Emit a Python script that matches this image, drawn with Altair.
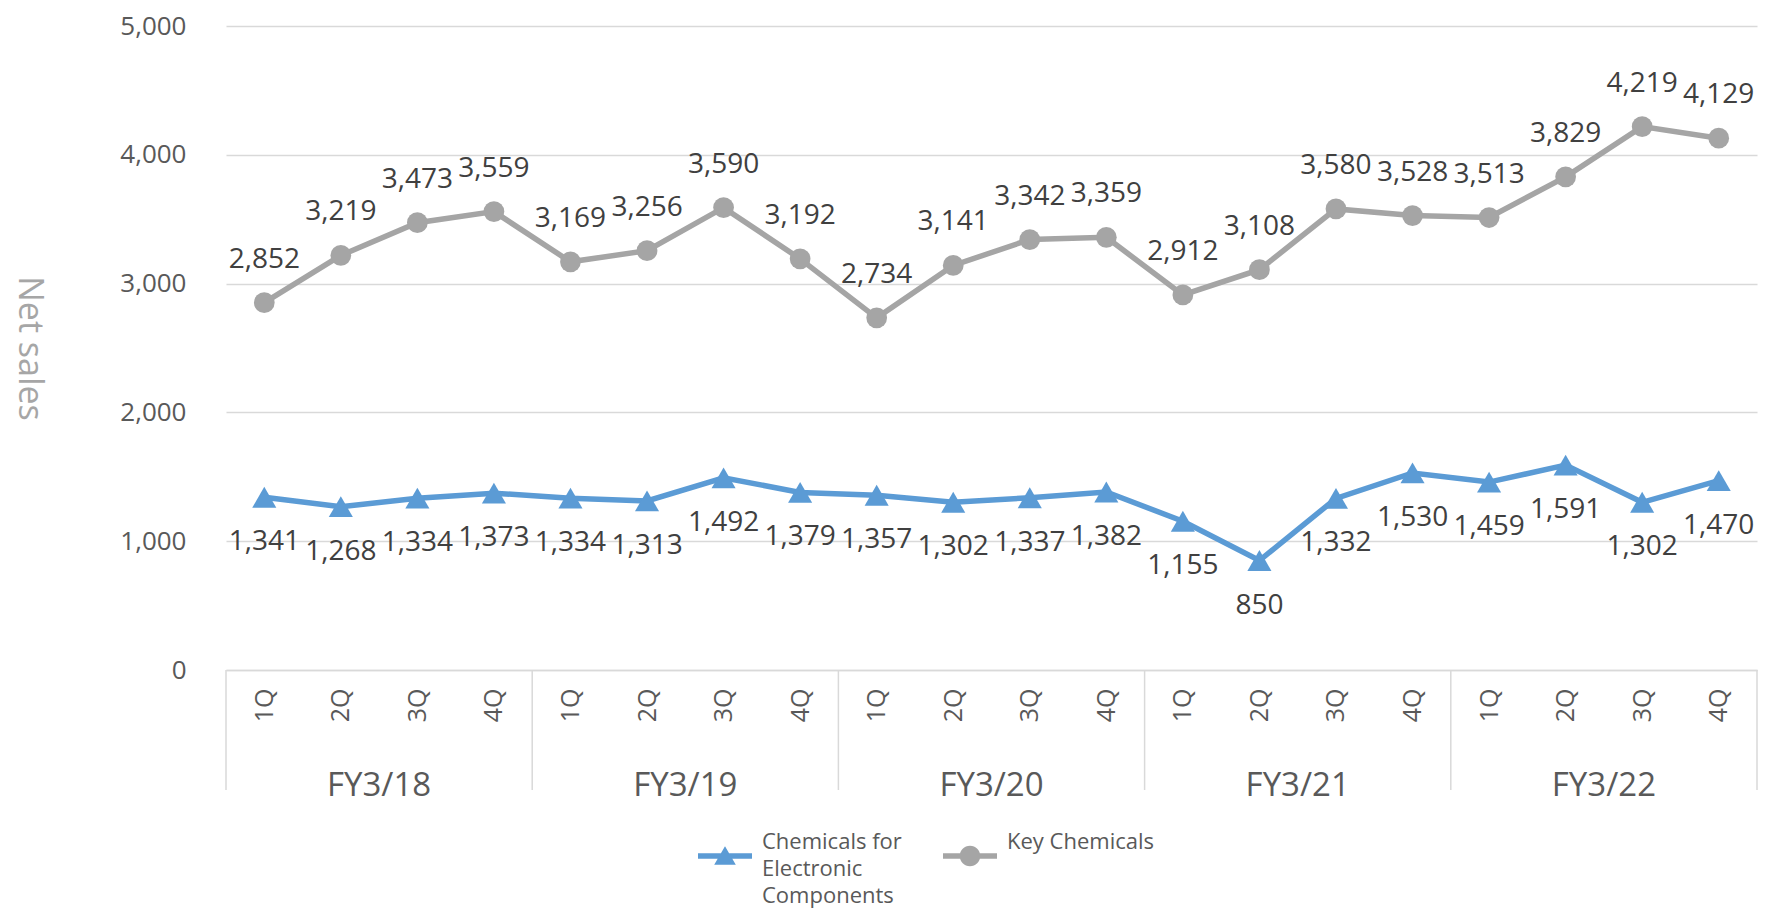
import json
import altair as alt
import pandas as pd

# ---------------- data ----------------
fiscal_years = ["FY3/18", "FY3/19", "FY3/20", "FY3/21", "FY3/22"]
quarters = ["1Q", "2Q", "3Q", "4Q"]
series_names = ["Chemicals for Electronic Components", "Key Chemicals"]
electronic = [1341, 1268, 1334, 1373, 1334, 1313, 1492, 1379, 1357, 1302,
              1337, 1382, 1155, 850, 1332, 1530, 1459, 1591, 1302, 1470]
key_chem = [2852, 3219, 3473, 3559, 3169, 3256, 3590, 3192, 2734, 3141,
            3342, 3359, 2912, 3108, 3580, 3528, 3513, 3829, 4219, 4129]
y_ticks = [0, 1000, 2000, 3000, 4000, 5000]
colors = ["#5B9BD5", "#A5A5A5"]

nq = len(quarters)
n = len(key_chem)

rows = []
for s, vals in zip(series_names, [electronic, key_chem]):
    for i, v in enumerate(vals):
        rows.append({"idx": i, "fy": fiscal_years[i // nq],
                     "q": quarters[i % nq], "series": s, "value": v})
df = pd.DataFrame(rows)

groups = pd.DataFrame({
    "fy": fiscal_years,
    "center": [g * nq + (nq - 1) / 2 for g in range(len(fiscal_years))],
})
bounds = pd.DataFrame({"b": [g * nq - 0.5 for g in range(len(fiscal_years) + 1)]})

W, H = 1531, 644
TXT = "#595959"
GRID = "#D9D9D9"
FONT = "Open Sans"

x_scale = alt.Scale(domain=[-0.5, n - 0.5], nice=False, zero=False)
y_scale = alt.Scale(domain=[y_ticks[0], y_ticks[-1]], nice=False)
color_scale = alt.Scale(domain=series_names, range=colors)

x_axis = alt.Axis(values=list(range(n)),
                  labelExpr=f"{json.dumps(quarters)}[datum.value % {nq}]",
                  labelAngle=270, ticks=False, grid=False,
                  domainColor=GRID, domainWidth=1.5,
                  labelFont=FONT, labelFontSize=25, labelColor=TXT,
                  labelPadding=18, labelFlush=False)
y_axis = alt.Axis(values=y_ticks, format=",d", grid=True,
                  gridColor=GRID, gridWidth=1.5, domain=False,
                  ticks=False, labelPadding=40, labelFont=FONT,
                  labelFontSize=26, labelColor=TXT,
                  titleAngle=90, titleX=-198, titleY=H / 2,
                  titleAlign="center", titleBaseline="middle",
                  titleFont=FONT, titleFontSize=34,
                  titleFontWeight="normal", titleColor="#A6A6A6")


def xq(field):
    return alt.X(field, scale=x_scale, title=None, axis=x_axis)


y_enc = alt.Y("value:Q", scale=y_scale, title="Net sales", axis=y_axis)

# legend symbols: short line with a marker in the middle
tri_path = "M-1,-0.1L1,-0.1L1,0.1L-1,0.1Z M0,-0.36L0.4,0.32L-0.4,0.32Z"
circ_path = ("M-1,-0.1L1,-0.1L1,0.1L-1,0.1Z "
             "M0.38,0A0.38,0.38 0 1,1 -0.38,0A0.38,0.38 0 1,1 0.38,0Z")

base = alt.Chart(df)
elec_df = base.transform_filter(alt.datum.series == series_names[0])
key_df = base.transform_filter(alt.datum.series == series_names[1])

line_e = elec_df.mark_line(strokeWidth=5.5, color=colors[0]).encode(x=xq("idx:Q"), y=y_enc)
line_k = key_df.mark_line(strokeWidth=5.5, color=colors[1]).encode(x=xq("idx:Q"), y=y_enc)

pts_e = elec_df.mark_point(shape="triangle-up", filled=True, size=580,
                           opacity=1, color=colors[0]).encode(x=xq("idx:Q"), y=y_enc)
pts_k = key_df.mark_point(shape="circle", filled=True, size=430,
                          opacity=1, color=colors[1]).encode(x=xq("idx:Q"), y=y_enc)

txt_k = key_df.mark_text(dy=-43, font=FONT, fontSize=28, color="#404040").encode(
    x=xq("idx:Q"), y=y_enc, text=alt.Text("value:Q", format=",d"))
txt_e = elec_df.mark_text(dy=45, font=FONT, fontSize=28, color="#404040").encode(
    x=xq("idx:Q"), y=y_enc, text=alt.Text("value:Q", format=",d"))

# fiscal-year separators below the axis
sep = alt.Chart(bounds).mark_rule(color=GRID, strokeWidth=1.5).encode(
    x=xq("b:Q"), y=alt.value(H), y2=alt.value(H + 120))

# fiscal-year labels
grp = alt.Chart(groups).mark_text(
    font=FONT, fontSize=33, color=TXT, baseline="middle").encode(
    x=xq("center:Q"), y=alt.value(H + 116), text="fy:N")

# legend-only layer (the only layer that encodes colour)
leg_props = dict(orient="none", legendX=472, legendY=803,
                 direction="horizontal", title=None,
                 labelFont=FONT, labelFontSize=22, labelColor=TXT,
                 labelBaseline="line-bottom",
                 labelExpr=("datum.label == 'Chemicals for Electronic Components' ? "
                            "['Chemicals for', 'Electronic', 'Components'] : "
                            "[datum.label, '', '']"),
                 labelLimit=500, labelOffset=10,
                 symbolSize=2916, symbolOpacity=1, symbolStrokeWidth=0,
                 columnPadding=41)
leg = base.mark_point(opacity=0, filled=True).encode(
    x=xq("idx:Q"), y=y_enc,
    color=alt.Color("series:N", scale=color_scale, legend=alt.Legend(**leg_props)),
    shape=alt.Shape("series:N",
                    scale=alt.Scale(domain=series_names, range=[tri_path, circ_path]),
                    legend=alt.Legend(**leg_props)))

chart = alt.layer(line_e, line_k, pts_e, pts_k, txt_k, txt_e, sep, grp, leg).properties(
    width=W, height=H,
    padding={"left": 218, "top": 18, "right": 4, "bottom": 242},
    autosize=alt.AutoSizeParams(type="none"),
).configure(
    background="white",
    view=alt.ViewConfig(strokeWidth=0),
    style={"guide-label": {"lineHeight": 27}},
)

chart.save("out.html", embed_options={"renderer": "svg", "actions": False})
